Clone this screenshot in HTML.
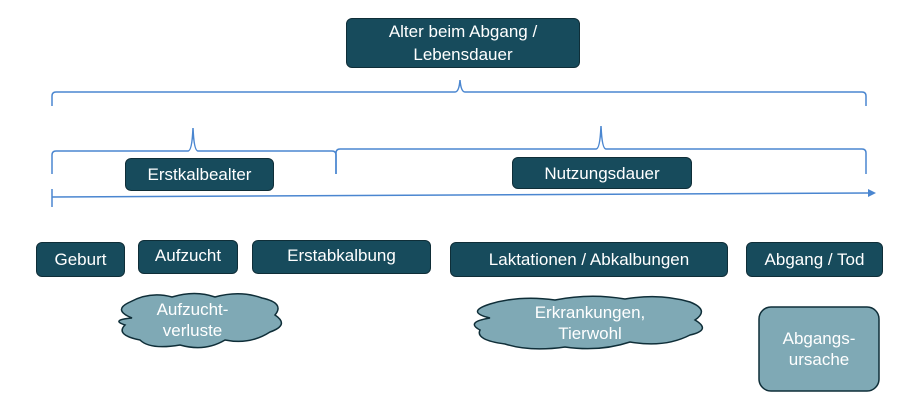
<!DOCTYPE html>
<html><head><meta charset="utf-8"><style>
body{margin:0;width:907px;height:400px;background:#fff;position:relative;overflow:hidden;font-family:"Liberation Sans",sans-serif}
.b{position:absolute;background:#174b5c;border:1.5px solid #0f2e38;border-radius:6px;color:#fff;font-size:17px;display:flex;align-items:center;justify-content:center;text-align:center;box-sizing:border-box;line-height:23px}
.t{position:absolute;color:#fff;font-size:17px;text-align:center;line-height:21px}
</style></head><body>
<svg width="907" height="400" style="position:absolute;left:0;top:0">
<g fill="none" stroke="#4a86d0" stroke-width="1.5">
<path d="M52 106 V96 Q52 92 56 92 H455 Q459 92 460 80 Q461 92 465 92 H862 Q866 92 866 96 V106"/>
<path d="M52 174 V155 Q52 151 56 151 H188 Q192 151 193 128 Q194 151 198 151 H332 Q336 151 336 155 V174"/>
<path d="M336 174 V153 Q336 149 340 149 H596 Q600 149 601 126 Q602 149 606 149 H862 Q866 149 866 153 V174"/>
<path d="M52 197 L868 193"/>
<path d="M52 189 V207"/>
</g>
<path d="M868 189 L876 193 L868 197Z" fill="#4a86d0"/>
<g fill="#7fa9b5" stroke="#0f2e38" stroke-width="1.5">
<path d="M132 318 Q112 310 130 302 Q150 291 172 297 Q195 290 215 297 Q240 290 262 298 Q285 303 275 315 Q290 325 270 332 Q250 345 225 340 Q205 352 180 345 Q150 350 140 340 Q115 335 125 325 Q110 320 132 318Z"/>
<path d="M490 318 Q465 312 490 304 Q520 295 555 300 Q590 293 625 299 Q660 293 690 302 Q710 310 695 320 Q712 330 690 335 Q665 348 630 342 Q600 352 565 347 Q530 352 505 344 Q475 340 480 330 Q465 322 490 318Z"/>
<rect x="759" y="307" width="120" height="84" rx="12"/>
</g>
</svg>
<div class="b" style="left:346px;top:18px;width:234px;height:50px">Alter beim Abgang /<br>Lebensdauer</div>
<div class="b" style="left:125px;top:158px;width:149px;height:33px">Erstkalbealter</div>
<div class="b" style="left:512px;top:157px;width:180px;height:32px">Nutzungsdauer</div>
<div class="b" style="left:36px;top:242px;width:89px;height:35px">Geburt</div>
<div class="b" style="left:138px;top:240px;width:100px;height:34px;padding-bottom:4px">Aufzucht</div>
<div class="b" style="left:252px;top:240px;width:179px;height:34px;padding-bottom:4px">Erstabkalbung</div>
<div class="b" style="left:450px;top:242px;width:278px;height:35px">Laktationen / Abkalbungen</div>
<div class="b" style="left:746px;top:242px;width:137px;height:35px">Abgang / Tod</div>
<div class="t" style="left:130px;top:299px;width:125px">Aufzucht-<br>verluste</div>
<div class="t" style="left:490px;top:302px;width:200px">Erkrankungen,<br>Tierwohl</div>
<div class="t" style="left:759px;top:328px;width:120px">Abgangs-<br>ursache</div>
</body></html>
